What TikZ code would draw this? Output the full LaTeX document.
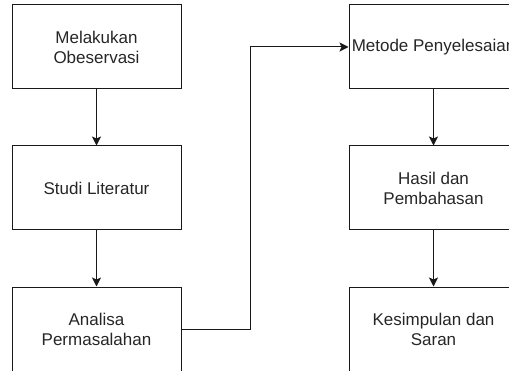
\documentclass[tikz,border=0pt]{standalone}
\usepackage{fontspec}
\setmainfont{Liberation Sans}
\usepackage{tikz}
\usetikzlibrary{arrows.meta, positioning}

\begin{document}
\begin{tikzpicture}[x=1pt, y=1pt, >={Stealth[length=9pt, width=9pt, inset=2pt]}, line width=1pt,
  langkah/.style={draw=black!90, rectangle, minimum width=169pt, minimum height=84pt,
    inner sep=0pt, align=center, text=black!85, font=\fontsize{17}{20}\selectfont},
  node distance=56pt and 167pt]
  \useasboundingbox (0,0) rectangle (509,370);
  \clip (0,0) rectangle (509,370);

  % Kolom kiri
  \node[langkah] (observasi) at (96.5,323) {Melakukan\\Obeservasi};
  \node[langkah, below=of observasi] (studi) {Studi Literatur};
  \node[langkah, below=of studi] (analisa) {Analisa\\Permasalahan};

  % Kolom kanan
  \node[langkah, right=of observasi] (metode) {Metode Penyelesaian};
  \node[langkah, below=of metode] (hasil) {Hasil dan\\Pembahasan};
  \node[langkah, below=of hasil] (kesimpulan) {Kesimpulan dan\\Saran};

  % Alur
  \draw[black!90, ->] (observasi) -- (studi);
  \draw[black!90, ->] (studi) -- (analisa);
  \draw[black!90, ->] (analisa.east) -- ++(69,0) |- (metode.west);
  \draw[black!90, ->] (metode) -- (hasil);
  \draw[black!90, ->] (hasil) -- (kesimpulan);

\end{tikzpicture}
\end{document}
